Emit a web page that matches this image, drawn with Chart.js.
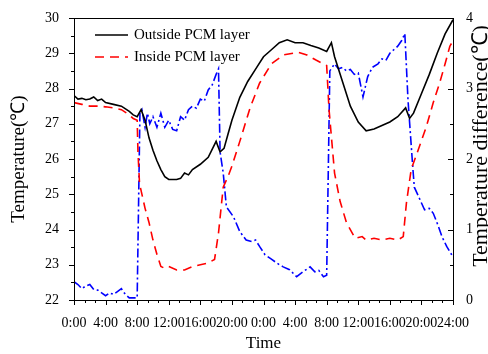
<!DOCTYPE html>
<html>
<head>
<meta charset="utf-8">
<script src="https://cdn.jsdelivr.net/npm/chart.js@4.4.1/dist/chart.umd.min.js"></script>
<style>
  html, body { margin: 0; padding: 0; background: #fff; }
  #wrap { width: 488px; height: 354px; }
</style>
</head>
<body>
<div id="wrap"><canvas id="chart" width="488" height="354"></canvas></div>
<script>
// hours since start (two days, 0..48)
const timeLabels = ['0:00', '4:00', '8:00', '12:00', '16:00', '20:00', '0:00', '4:00', '8:00', '12:00', '16:00', '20:00', '24:00'];

const hoursOutside = [0, 0.5, 1, 1.5, 2, 2.5, 3, 3.5, 4, 5, 6, 7, 7.5, 8, 8.5, 9, 9.5, 10, 10.5, 11, 11.5, 12, 13, 13.5, 14, 14.5, 15, 16, 17, 18, 18.5, 19, 19.5, 20, 21, 22, 23, 24, 25, 26, 27, 28, 29, 30, 31, 32, 32.6, 33, 34, 35, 36, 37, 38, 39, 40, 41, 42, 42.5, 43, 44, 45, 46, 47, 48];
const tempOutside = [27.8, 27.7, 27.72, 27.68, 27.7, 27.76, 27.66, 27.7, 27.6, 27.55, 27.5, 27.35, 27.25, 27.2, 27.4, 27.1, 26.6, 26.25, 25.95, 25.7, 25.5, 25.42, 25.42, 25.45, 25.6, 25.55, 25.7, 25.85, 26.05, 26.5, 26.2, 26.3, 26.7, 27.1, 27.75, 28.2, 28.55, 28.9, 29.1, 29.3, 29.38, 29.3, 29.3, 29.22, 29.15, 29.05, 29.3, 28.9, 28.2, 27.5, 27.05, 26.8, 26.85, 26.95, 27.05, 27.2, 27.45, 27.15, 27.3, 27.85, 28.4, 29.0, 29.55, 29.95];

const hoursInside = [0, 1, 2, 3, 4, 5, 6, 7, 7.5, 8, 8.1, 8.3, 9, 9.5, 10, 10.5, 11, 11.5, 12, 13, 14, 15, 16, 17, 17.8, 18.3, 18.9, 19.5, 20, 21, 22.3, 23.5, 25, 26.5, 28.4, 29.5, 30.7, 32, 32.3, 33, 33.7, 34.5, 35.6, 36.5, 37, 38, 39, 40, 41, 41.7, 42.1, 42.7, 43.5, 44.6, 45.5, 46.3, 47, 47.6, 48];
const tempInside = [27.6, 27.55, 27.5, 27.5, 27.48, 27.45, 27.4, 27.25, 27.15, 27.1, 26.2, 25.3, 24.6, 24.2, 23.7, 23.3, 22.95, 22.9, 22.95, 22.85, 22.85, 22.95, 23.0, 23.05, 23.15, 23.9, 25.2, 25.5, 25.8, 26.5, 27.45, 28.15, 28.7, 28.95, 29.03, 28.95, 28.8, 28.65, 27.4, 25.6, 24.8, 24.2, 23.75, 23.8, 23.7, 23.75, 23.7, 23.75, 23.7, 23.8, 24.75, 25.7, 26.2, 26.9, 27.6, 28.15, 28.7, 29.2, 29.35];

const hoursDiff = [0, 0.5, 1, 1.5, 2, 2.5, 3, 3.5, 4, 4.5, 5, 5.5, 6, 6.5, 7, 7.5, 8, 8.35, 8.6, 9, 9.3, 9.6, 10, 10.5, 11, 11.5, 12, 12.5, 13, 13.5, 14, 14.5, 15, 15.5, 16, 16.5, 17, 17.5, 18, 18.3, 18.5, 18.9, 19.3, 20.2, 21, 21.8, 22.5, 23, 23.5, 24.2, 25, 26, 26.5, 27.3, 28.2, 29, 29.9, 30.5, 31, 31.6, 32, 32.4, 33, 33.5, 34, 34.5, 35, 35.5, 36, 36.6, 37.2, 37.8, 38.5, 39, 39.5, 40, 40.5, 41, 41.5, 41.9, 42.3, 42.9, 43.1, 44.4, 45, 45.5, 46.1, 46.6, 47.2, 48];
const tempDiff = [0.26, 0.22, 0.16, 0.2, 0.22, 0.15, 0.14, 0.1, 0.06, 0.1, 0.08, 0.12, 0.16, 0.08, 0.03, 0.03, 0.03, 2.65, 2.7, 2.45, 2.65, 2.5, 2.6, 2.45, 2.65, 2.45, 2.55, 2.42, 2.4, 2.6, 2.55, 2.7, 2.75, 2.72, 2.85, 2.82, 2.98, 3.05, 3.2, 3.28, 2.1, 1.8, 1.32, 1.18, 0.97, 0.85, 0.83, 0.85, 0.76, 0.64, 0.58, 0.5, 0.47, 0.43, 0.33, 0.4, 0.47, 0.4, 0.42, 0.33, 0.35, 3.25, 3.35, 3.28, 3.3, 3.25, 3.27, 3.2, 3.22, 2.88, 3.17, 3.3, 3.35, 3.42, 3.4, 3.5, 3.55, 3.6, 3.68, 3.78, 2.84, 1.89, 1.6, 1.28, 1.3, 1.23, 1.06, 0.9, 0.76, 0.61];

const serif = "'Liberation Serif', 'Times New Roman', serif";
const rightTitle = 'Temperature difference(℃)';

function pairs(xs, ys) {
    return xs.map((x, i) => ({ x: x, y: ys[i] }));
}

// box, tick marks (major + minor), legend and right title
const framePlugin = {
    id: 'frame',
    afterDraw(chart) {
        const ctx = chart.ctx;
        const a = chart.chartArea;
        const sx = chart.scales.x, sy = chart.scales.y, sy1 = chart.scales.y1;
        ctx.save();
        ctx.strokeStyle = '#000';
        ctx.lineWidth = 1;
        ctx.strokeRect(a.left + 0.5, a.top + 0.5, a.right - a.left, a.bottom - a.top);

        ctx.beginPath();
        for (let v = 22; v <= 30.001; v += 0.5) {
            const y = Math.round(sy.getPixelForValue(v)) + 0.5;
            const len = Number.isInteger(v) ? 5 : 3;
            ctx.moveTo(a.left, y); ctx.lineTo(a.left - len, y);
        }
        for (let v = 0; v <= 4.001; v += 0.5) {
            const y = Math.round(sy1.getPixelForValue(v)) + 0.5;
            const len = Number.isInteger(v) ? 5 : 3;
            ctx.moveTo(a.right, y); ctx.lineTo(a.right - len, y);
        }
        for (let i = 0; i <= 36; i++) {
            const x = Math.round(sx.getPixelForValue(i * 4 / 3)) + 0.5;
            const len = i % 3 === 0 ? 5 : 3;
            ctx.moveTo(x, a.bottom); ctx.lineTo(x, a.bottom + len);
        }
        ctx.stroke();

        // legend
        const items = chart.data.datasets.filter(d => d.inLegend);
        ctx.font = '15px ' + serif;
        ctx.textBaseline = 'middle';
        ctx.fillStyle = '#000';
        items.forEach((d, i) => {
            const y = 35 + i * 22;
            ctx.strokeStyle = d.borderColor;
            ctx.lineWidth = d.borderWidth;
            ctx.setLineDash(d.borderDash || []);
            ctx.beginPath();
            ctx.moveTo(95, y); ctx.lineTo(128, y);
            ctx.stroke();
            ctx.setLineDash([]);
            ctx.fillText(d.label, 134, y);
        });

        // right axis title, reads bottom to top like the left one
        ctx.translate(481, 146);
        ctx.rotate(-Math.PI / 2);
        ctx.font = '22px ' + serif;
        ctx.textAlign = 'center';
        ctx.fillText(rightTitle, 0, 0);
        ctx.restore();
    }
};

const ctx = document.getElementById('chart').getContext('2d');
new Chart(ctx, {
    type: 'line',
    data: {
        datasets: [
            {
                label: 'Outside PCM layer',
                inLegend: true,
                data: pairs(hoursOutside, tempOutside),
                yAxisID: 'y',
                borderColor: '#000000',
                borderWidth: 1.6
            },
            {
                label: 'Inside PCM layer',
                inLegend: true,
                data: pairs(hoursInside, tempInside),
                yAxisID: 'y',
                borderColor: '#ff0000',
                borderWidth: 1.6,
                borderDash: [9, 6]
            },
            {
                label: 'Temperature difference',
                inLegend: false,
                data: pairs(hoursDiff, tempDiff),
                yAxisID: 'y1',
                borderColor: '#0000ff',
                borderWidth: 1.6,
                borderDash: [9, 3, 2, 3]
            }
        ]
    },
    options: {
        responsive: false,
        animation: false,
        layout: { padding: { top: 18, left: 0, right: 0, bottom: 0 } },
        elements: { point: { radius: 0 }, line: { tension: 0 } },
        plugins: { legend: { display: false }, tooltip: { enabled: false } },
        scales: {
            x: {
                type: 'linear',
                min: 0,
                max: 48,
                grid: { display: false },
                border: { display: false },
                ticks: {
                    stepSize: 4,
                    autoSkip: false,
                    maxRotation: 0,
                    padding: 7,
                    color: '#000',
                    font: { family: serif, size: 14 },
                    callback: v => timeLabels[Math.round(v / 4)]
                },
                title: { display: true, text: 'Time', color: '#000', font: { family: serif, size: 17 }, padding: 0 },
                afterFit: s => { s.height = 54; }
            },
            y: {
                position: 'left',
                min: 22,
                max: 30,
                grid: { display: false },
                border: { display: false },
                ticks: { stepSize: 1, padding: 7, color: '#000', font: { family: serif, size: 14 } },
                title: { display: true, text: 'Temperature(℃)', color: '#000', font: { family: serif, size: 19 }, padding: { top: 8, bottom: 0 } },
                afterFit: s => { s.width = 74; }
            },
            y1: {
                position: 'right',
                min: 0,
                max: 4,
                grid: { display: false },
                border: { display: false },
                ticks: { stepSize: 1, padding: 5, color: '#000', font: { family: serif, size: 14 } },
                title: { display: false },
                afterFit: s => { s.width = 35; }
            }
        }
    },
    plugins: [framePlugin]
});
</script>
</body>
</html>
